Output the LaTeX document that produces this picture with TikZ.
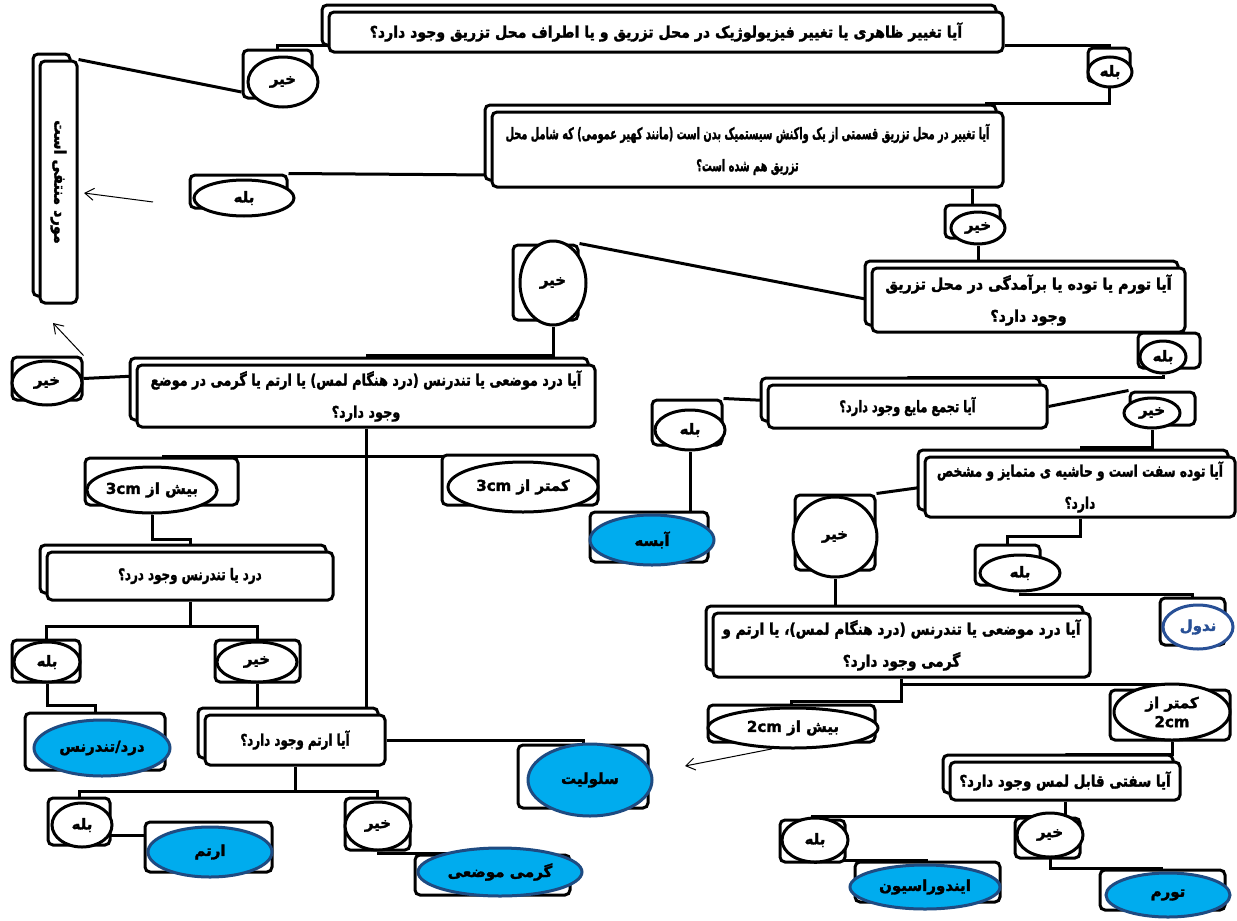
\documentclass[tikz,border=0pt]{standalone}
\usepackage{fontspec}
\newfontfamily\fa[Script=Arabic, BoldFeatures={FakeBold=2}]{DejaVu Sans}
\TeXXeTstate=1
\usetikzlibrary{shapes.geometric,arrows.meta,shadows}
\definecolor{lblue}{RGB}{0,172,238}
\definecolor{dblue}{RGB}{30,75,130}
\definecolor{nblue}{RGB}{40,80,150}
\pgfdeclarelayer{paper}
\pgfdeclarelayer{bg}
\pgfsetlayers{paper,bg,main}
\tikzset{
  qbox/.style={draw, line width=3pt, rounded corners=5pt, fill=white, align=center, inner sep=0pt,
    font=\fa\bfseries\fontsize{16}{32}\selectfont,
    copy shadow={shadow xshift=-7pt, shadow yshift=7pt, draw=black, fill=white, line width=3pt}},
  backr/.style={draw, line width=3pt, rounded corners=5pt, fill=white, inner sep=0pt},
  lab/.style={ellipse, draw, line width=3pt, fill=white, inner sep=0pt, align=center,
    font=\fa\bfseries\fontsize{15}{19}\selectfont},
  leaf/.style={ellipse, draw=dblue, line width=3pt, fill=lblue, inner sep=0pt,
    font=\fa\bfseries\fontsize{15}{19}\selectfont},
  conn/.style={line width=3pt},
  thinarr/.style={line width=1pt, -{Straight Barb[length=9pt,width=12pt]}},
}
\begin{document}
\begin{tikzpicture}[x=1pt,y=-1pt]
\begin{pgfonlayer}{paper}
\fill[white] (0,0) rectangle (1237,921);
\end{pgfonlayer}
\useasboundingbox (0,0) rectangle (1237,921);

% ---------- question boxes
\node[qbox, minimum width=674pt, minimum height=40pt] (A) at (666,32)
  {\scalebox{0.88}[1]{\beginR آیا تغییر ظاهری یا تغییر فیزیولوژیک در محل تزریق و یا اطراف محل تزریق وجود دارد؟\endR}};
\node[qbox, minimum width=511pt, minimum height=75pt] (B) at (747.5,149.5)
  {\scalebox{0.61}[1]{\beginR آیا تغییر در محل تزریق قسمتی از یک واکنش سیستمیک بدن است (مانند کهیر عمومی) که شامل محل\endR}\\\scalebox{0.61}[1]{\beginR تزریق هم شده است؟\endR}};
\node[qbox, minimum width=313pt, minimum height=64pt] (C) at (1028.5,300)
  {\scalebox{0.89}[1]{\beginR آیا تورم یا توده یا برآمدگی در محل تزریق\endR}\\\scalebox{0.89}[1]{\beginR وجود دارد؟\endR}};
\node[qbox, minimum width=458pt, minimum height=62pt] (D) at (366,396)
  {\scalebox{0.80}[1]{\beginR آیا درد موضعی یا تندرنس (درد هنگام لمس) یا ارتم یا گرمی در موضع\endR}\\\scalebox{0.80}[1]{\beginR وجود دارد؟\endR}};
\node[qbox, minimum width=286pt, minimum height=48pt] (E) at (190,576)
  {\scalebox{0.74}[1]{\beginR درد یا تندرنس وجود درد؟\endR}};
\node[qbox, minimum width=180pt, minimum height=50pt] (F) at (295,740)
  {\scalebox{0.74}[1]{\beginR آیا ارتم وجود دارد؟\endR}};
\node[qbox, minimum width=279pt, minimum height=43pt] (G) at (907.5,406.5)
  {\scalebox{0.71}[1]{\beginR آیا تجمع مایع وجود دارد؟\endR}};
\node[qbox, minimum width=310pt, minimum height=60pt] (H) at (1080,487)
  {\scalebox{0.76}[1]{\beginR آیا توده سفت است  و حاشیه ی متمایز و مشخص\endR}\\\scalebox{0.76}[1]{\beginR دارد؟\endR}};
\node[qbox, minimum width=377pt, minimum height=64pt] (I) at (901.5,645)
  {\scalebox{0.86}[1]{\beginR آیا درد موضعی یا تندرنس (درد هنگام لمس)، یا ارتم و\endR}\\\scalebox{0.86}[1]{\beginR گرمی وجود دارد؟\endR}};
\node[qbox, minimum width=230pt, minimum height=38pt] (J) at (1065,781)
  {\scalebox{0.84}[1]{\beginR آیا سفتی قابل لمس وجود دارد؟\endR}};
\node[qbox, minimum width=37pt, minimum height=242pt] (V) at (58.5,182)
  {\rotatebox{-90}{\scalebox{0.9}[1]{\beginR مورد منتفی است\endR}}};

% ---------- yes / no labels
\node[backr, minimum width=69pt, minimum height=48pt] (nAr) at (277.5,74) {};
\node[lab, minimum width=70pt, minimum height=50pt] (nA) at (283,82) {\beginR خیر\endR};
\node[backr, minimum width=42pt, minimum height=34pt] (yAr) at (1109,65) {};
\node[lab, minimum width=44pt, minimum height=30pt] (yA) at (1110,72) {\beginR بله\endR};
\node[backr, minimum width=97pt, minimum height=33pt] (yBr) at (238.5,191.5) {};
\node[lab, minimum width=100pt, minimum height=36pt] (yB) at (244,198) {\beginR بله\endR};
\node[backr, minimum width=55pt, minimum height=33pt] (nBr) at (972.5,221.5) {};
\node[lab, minimum width=54pt, minimum height=32pt] (nB) at (978,228) {\beginR خیر\endR};
\node[backr, minimum width=62pt, minimum height=35pt] (yCr) at (1169,350.5) {};
\node[lab, minimum width=46pt, minimum height=32pt] (yC) at (1163,357) {\beginR بله\endR};
\node[backr, minimum width=65pt, minimum height=75pt] (nCr) at (545.5,282.5) {};
\node[lab, minimum width=66pt, minimum height=84pt] (nC) at (553,283) {\beginR خیر\endR};
\node[backr, minimum width=70pt, minimum height=43pt] (nDr) at (47,378.5) {};
\node[lab, minimum width=70pt, minimum height=44pt] (nD) at (47,383) {\beginR خیر\endR};
\node[backr, minimum width=153pt, minimum height=47pt] (gt3r) at (161.5,481.5) {};
\node[lab, minimum width=120pt, minimum height=46pt] (gt3) at (152,490) {\beginR بیش از 3cm\endR};
\node[backr, minimum width=156pt, minimum height=50pt] (lt3r) at (520,480) {};
\node[lab, minimum width=150pt, minimum height=50pt] (lt3) at (523,487) {\beginR کمتر از 3cm\endR};
\node[backr, minimum width=68pt, minimum height=42pt] (yEr) at (46,661) {};
\node[lab, minimum width=66pt, minimum height=40pt] (yE) at (47,662) {\beginR بله\endR};
\node[backr, minimum width=85pt, minimum height=42pt] (nEr) at (257.5,661) {};
\node[lab, minimum width=80pt, minimum height=40pt] (nE) at (257,662) {\beginR خیر\endR};
\node[backr, minimum width=62pt, minimum height=47pt] (yFr) at (79,821.5) {};
\node[lab, minimum width=60pt, minimum height=44pt] (yF) at (82,825) {\beginR بله\endR};
\node[backr, minimum width=65pt, minimum height=52pt] (nFr) at (377.5,824) {};
\node[lab, minimum width=66pt, minimum height=48pt] (nF) at (378,826) {\beginR خیر\endR};
\node[backr, minimum width=70pt, minimum height=45pt] (yGr) at (687,422.5) {};
\node[lab, minimum width=70pt, minimum height=40pt] (yG) at (690,430) {\beginR بله\endR};
\node[backr, minimum width=65pt, minimum height=33pt] (nGr) at (1162.5,408.5) {};
\node[lab, minimum width=56pt, minimum height=30pt] (nG) at (1152,413) {\beginR خیر\endR};
\node[backr, minimum width=80pt, minimum height=75pt] (nHr) at (835,532.5) {};
\node[lab, minimum width=84pt, minimum height=80pt] (nH) at (835,537) {\beginR خیر\endR};
\node[backr, minimum width=65pt, minimum height=40pt] (yHr) at (1007.5,565) {};
\node[lab, minimum width=80pt, minimum height=36pt] (yH) at (1020,573) {\beginR بله\endR};
\node[backr, minimum width=167pt, minimum height=37pt] (gt2r) at (791.5,723.5) {};
\node[lab, minimum width=170pt, minimum height=40pt] (gt2) at (793,728) {\beginR بیش از 2cm\endR};
\node[backr, minimum width=120pt, minimum height=50pt] (lt2r) at (1170,715) {};
\node[lab, minimum width=116pt, minimum height=56pt] (lt2) at (1172,712) {\beginR کمتر از\endR\\\beginR 2cm\endR};
\node[backr, minimum width=65pt, minimum height=42pt] (yJr) at (812.5,841) {};
\node[lab, minimum width=66pt, minimum height=44pt] (yJ) at (815,840) {\beginR بله\endR};
\node[backr, minimum width=65pt, minimum height=40pt] (nJr) at (1047.5,838) {};
\node[lab, minimum width=66pt, minimum height=44pt] (nJ) at (1050,835) {\beginR خیر\endR};

% ---------- results
\node[backr, minimum width=118pt, minimum height=50pt] (absr) at (649,537) {};
\node[leaf, minimum width=124pt, minimum height=50pt] (abs) at (652,540) {\beginR آبسه\endR};
\node[backr, minimum width=140pt, minimum height=57pt] (painr) at (95,741.5) {};
\node[leaf, minimum width=136pt, minimum height=56pt] (pain) at (102,748) {\beginR درد/تندرنس\endR};
\node[backr, minimum width=130pt, minimum height=63pt] (cellr) at (583,776.5) {};
\node[leaf, minimum width=124pt, minimum height=72pt] (cell) at (590,780) {\beginR سلولیت\endR};
\node[backr, minimum width=127pt, minimum height=50pt] (eryr) at (208.5,847) {};
\node[leaf, minimum width=124pt, minimum height=50pt] (ery) at (210,852) {\beginR ارتم\endR};
\node[backr, minimum width=155pt, minimum height=40pt] (warmr) at (492.5,875) {};
\node[leaf, minimum width=164pt, minimum height=48pt] (warm) at (500,872) {\beginR گرمی موضعی\endR};
\node[backr, minimum width=65pt, minimum height=47pt] (nodr) at (1192.5,621.5) {};
\node[leaf, fill=white, draw=nblue, text=nblue, minimum width=70pt, minimum height=44pt] (nod) at (1198,627) {\beginR ندول\endR};
\node[backr, minimum width=145pt, minimum height=40pt] (indr) at (927.5,882) {};
\node[leaf, minimum width=150pt, minimum height=44pt] (ind) at (925,887) {\beginR ایندوراسیون\endR};
\node[backr, minimum width=125pt, minimum height=40pt] (swelr) at (1162.5,890) {};
\node[leaf, minimum width=124pt, minimum height=44pt] (swel) at (1168,895) {\beginR تورم\endR};

% ---------- thin arrows
\coordinate (ar1s) at (153,202);
\coordinate (ar1e) at (84,193);
\draw[thinarr] (ar1s) -- (ar1e);
\coordinate (ar2e) at (53,323);
\draw[thinarr] (nDr.north east) -- (ar2e);
\coordinate (ar3e) at (685,766);
\draw[thinarr] (gt2.225) -- (ar3e);

% ---------- connectors
\begin{pgfonlayer}{bg}
\draw[conn] ([yshift=-13pt]A.west) -| (nAr.north);
\draw[conn] ([yshift=-18pt]nAr.west) -- (V.north east);
\draw[conn] ([yshift=-13pt]A.east) -| (yAr.north);
\draw[conn] (yAr.south) |- ([xshift=-20pt,yshift=7pt]B.north east);
\draw[conn] ([yshift=-25.5pt]B.west) -- (yBr.north east);
\draw[conn] (nBr.north |- B.south) -- (nBr.north);
\draw[conn] (nB.south) -- (nB.south |- C.north);
\draw[conn] (yCr.north |- C.south) -- (yCr.north);
\draw[conn] (C.west) -- (nCr.north east);
\draw[conn] (nC.south) |- ([yshift=8pt]D.north);
\draw[conn] ([yshift=20pt]D.west) -- (nDr.east);
\draw[conn] (D.south) -- ++(0,28) -| (gt3r.north);
\draw[conn] (D.south) ++(0,28) -| (lt3r.north);
\draw[conn] (D.south) -- (D.south |- F.north);
\draw[conn] (gt3.south) -- ++(0,25) -| ([yshift=7pt]E.north);
\draw[conn] (E.south) -- ++(0,25) -| (yEr.north);
\draw[conn] (E.south) ++(0,25) -| (nEr.north);
\draw[conn] (yE.south) -- ++(0,22) -| (painr.north);
\draw[conn] (nE.south) -- (nE.south |- F.north);
\draw[conn] (F.east) -| (cellr.north);
\draw[conn] (F.south) -- ++(0,25) -| (yFr.north);
\draw[conn] (F.south) ++(0,25) -| (nFr.north);
\draw[conn] (yF.-20) -- (eryr.west |- yF.-20);
\draw[conn] (nF.south) |- (warmr.north);
\draw[conn] (yC.south) -- ++(0,3) -| ([yshift=7pt]G.north);
\draw[conn] ([yshift=6pt]G.west) -- (yGr.north east);
\draw[conn] (G.east) -- (nGr.north west);
\draw[conn] (yG.south) -- (yG.south |- absr.north);
\draw[conn] (nG.south) |- ([yshift=8pt]H.north);
\draw[conn] (H.west) -- (nHr.north east);
\draw[conn] (H.south) -- ++(0,18) -| (yHr.north);
\draw[conn] (yH.south) -- ++(0,2) -| (nodr.north);
\draw[conn] (nH.south) -- (nH.south |- I.north);
\draw[conn] (I.south) -- ++(0,23) -| (gt2r.north);
\draw[conn] (I.south) ++(0,6) -| (lt2r.north);
\draw[conn] (lt2.south) -- ++(0,13) -| ([yshift=7pt]J.north);
\draw[conn] (J.south) -- ++(0,15) -| (yJr.north);
\draw[conn] (J.south) ++(0,15) -| (nJr.north);
\draw[conn] (yJ.south) |- (indr.north);
\draw[conn] (nJ.south) |- (swelr.north);
\end{pgfonlayer}
\end{tikzpicture}
\end{document}
